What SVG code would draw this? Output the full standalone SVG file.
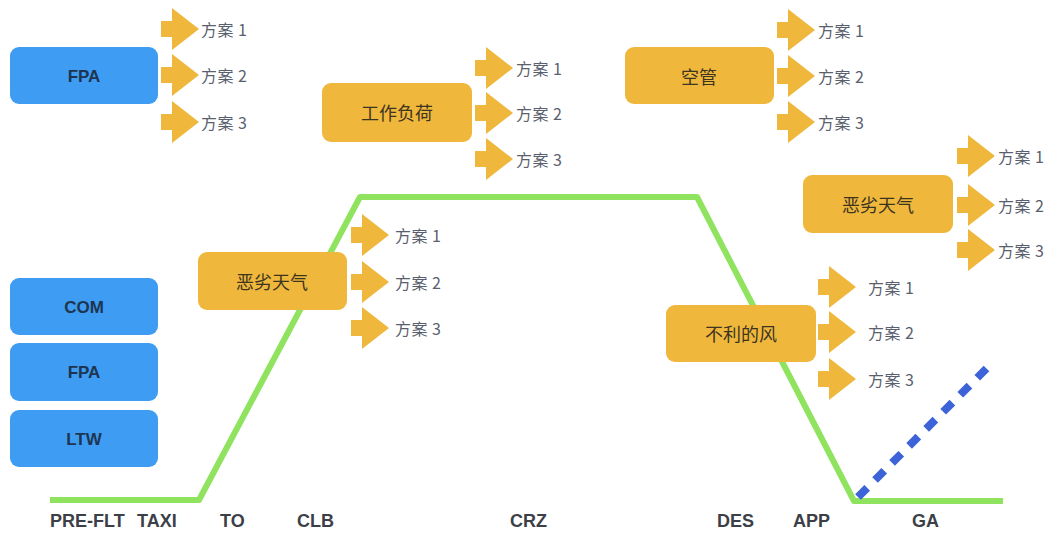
<svg xmlns="http://www.w3.org/2000/svg" xmlns:xlink="http://www.w3.org/1999/xlink" width="1057" height="536" viewBox="0 0 1057 536">
<defs>
<style>
.blue{fill:#3f9cf3;}
.orange{fill:#efb83c;}
.bt{font-family:"Liberation Sans",Arial,sans-serif;font-weight:bold;font-size:17px;fill:#1d3550;text-anchor:middle;dominant-baseline:central;}
.ot{font-family:"Noto Sans CJK SC","Liberation Sans",sans-serif;font-size:18px;fill:#3d3420;text-anchor:middle;dominant-baseline:central;}
.pt{font-family:"Noto Sans CJK SC","Liberation Sans",sans-serif;font-size:16px;fill:#5a5f6e;dominant-baseline:central;letter-spacing:0.5px;}
.ax{font-family:"Liberation Sans",Arial,sans-serif;font-weight:bold;font-size:18px;fill:#3c3f48;}
.arr{fill:#efb83c;}
</style>
<path id="ar" d="M0,-8 H11 V-21 L38,0 L11,21 V8 H0 Z"/>
</defs>
<rect width="1057" height="536" fill="#ffffff"/>
<g id="connectors">
<polyline points="50,500 199,500 360,197 697,197 854,501 1003,501" fill="none" stroke="#8fe35e" stroke-width="6" stroke-linejoin="round"/>
<line x1="858" y1="497" x2="987" y2="368" stroke="#3d63d8" stroke-width="8" stroke-dasharray="13,11.1"/>
</g>
<g id="fpa-top">
<rect class="blue" x="10" y="47" width="148" height="57" rx="9"/>
<text class="bt" x="84" y="76">FPA</text>
<use xlink:href="#ar" class="arr" x="161" y="29"/>
<use xlink:href="#ar" class="arr" x="161" y="75"/>
<use xlink:href="#ar" class="arr" x="161" y="122"/>
<text class="pt" x="201" y="29">方案 1</text>
<text class="pt" x="201" y="75">方案 2</text>
<text class="pt" x="201" y="122">方案 3</text>
</g>
<g id="workload">
<rect class="orange" x="322" y="83" width="150" height="59" rx="9"/>
<text class="ot" x="397" y="112">工作负荷</text>
<use xlink:href="#ar" class="arr" x="475" y="68"/>
<use xlink:href="#ar" class="arr" x="475" y="113"/>
<use xlink:href="#ar" class="arr" x="475" y="159"/>
<text class="pt" x="516" y="68">方案 1</text>
<text class="pt" x="516" y="113">方案 2</text>
<text class="pt" x="516" y="159">方案 3</text>
</g>
<g id="atc">
<rect class="orange" x="625" y="47" width="149" height="57" rx="9"/>
<text class="ot" x="699" y="76">空管</text>
<use xlink:href="#ar" class="arr" x="777" y="30"/>
<use xlink:href="#ar" class="arr" x="777" y="76"/>
<use xlink:href="#ar" class="arr" x="777" y="122"/>
<text class="pt" x="818" y="30">方案 1</text>
<text class="pt" x="818" y="76">方案 2</text>
<text class="pt" x="818" y="122">方案 3</text>
</g>
<g id="weather-upper">
<rect class="orange" x="803" y="175" width="150" height="58" rx="9"/>
<text class="ot" x="878" y="204">恶劣天气</text>
<use xlink:href="#ar" class="arr" x="957" y="156"/>
<use xlink:href="#ar" class="arr" x="957" y="205"/>
<use xlink:href="#ar" class="arr" x="957" y="250"/>
<text class="pt" x="998" y="156">方案 1</text>
<text class="pt" x="998" y="205">方案 2</text>
<text class="pt" x="998" y="250">方案 3</text>
</g>
<g id="weather-lower">
<rect class="orange" x="198" y="252" width="149" height="58" rx="9"/>
<text class="ot" x="272" y="281">恶劣天气</text>
<use xlink:href="#ar" class="arr" x="351" y="235"/>
<use xlink:href="#ar" class="arr" x="351" y="282"/>
<use xlink:href="#ar" class="arr" x="351" y="328"/>
<text class="pt" x="395" y="235">方案 1</text>
<text class="pt" x="395" y="282">方案 2</text>
<text class="pt" x="395" y="328">方案 3</text>
</g>
<g id="wind">
<rect class="orange" x="666" y="305" width="150" height="57" rx="9"/>
<text class="ot" x="741" y="333">不利的风</text>
<use xlink:href="#ar" class="arr" x="818" y="287"/>
<use xlink:href="#ar" class="arr" x="818" y="332"/>
<use xlink:href="#ar" class="arr" x="818" y="379"/>
<text class="pt" x="868" y="287">方案 1</text>
<text class="pt" x="868" y="332">方案 2</text>
<text class="pt" x="868" y="379">方案 3</text>
</g>
<g id="com">
<rect class="blue" x="10" y="278" width="148" height="57" rx="9"/>
<text class="bt" x="84" y="307">COM</text>
</g>
<g id="fpa-low">
<rect class="blue" x="10" y="343" width="148" height="58" rx="9"/>
<text class="bt" x="84" y="372">FPA</text>
</g>
<g id="ltw">
<rect class="blue" x="10" y="410" width="148" height="57" rx="9"/>
<text class="bt" x="84" y="439">LTW</text>
</g>
<g id="phases">
<text class="ax" x="50" y="527">PRE-FLT</text>
<text class="ax" x="137" y="527">TAXI</text>
<text class="ax" x="220" y="527">TO</text>
<text class="ax" x="297" y="527">CLB</text>
<text class="ax" x="510" y="527">CRZ</text>
<text class="ax" x="717" y="527">DES</text>
<text class="ax" x="793" y="527">APP</text>
<text class="ax" x="912" y="527">GA</text>
</g>
</svg>
